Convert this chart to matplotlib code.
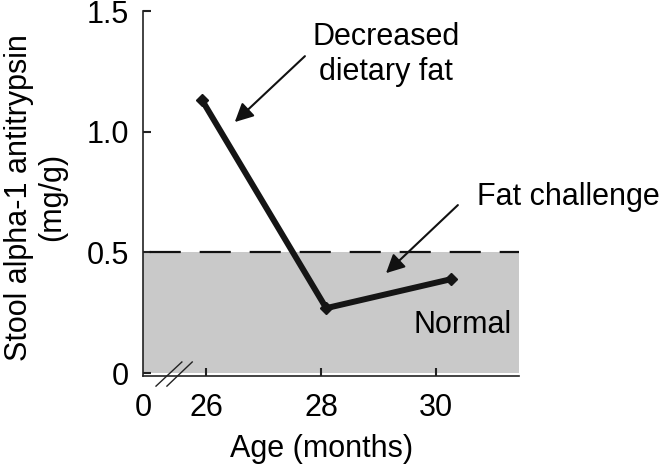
import matplotlib
matplotlib.use("Agg")
import matplotlib.pyplot as plt
from matplotlib.patches import FancyArrowPatch

plt.rcParams["font.family"] = ["Liberation Sans", "DejaVu Sans"]

# Data
age = [25.93, 28.09, 30.26]            # months
a1at = [1.131, 0.269, 0.389]           # stool alpha-1 antitrypsin, mg/g
normal_upper = 0.5
x_ticks = [24.904, 26, 28, 30]
x_ticklabels = ["0", "26", "28", "30"]
y_ticks = [0, 0.5, 1.0, 1.5]
y_ticklabels = ["0", "0.5", "1.0", "1.5"]

FS = 22

fig = plt.figure(figsize=(6.67, 4.67), dpi=100)
ax = fig.add_axes([0.2144, 0.1949, 0.5637, 0.7815])

xmin, xmax = 24.904, 31.443
ax.set_xlim(xmin, xmax)
ax.set_ylim(-0.012, 1.5)

# normal range
ax.fill_between([xmin, xmax], 0, normal_upper, color="#c9c9c9", lw=0, zorder=1)
ax.plot([xmin, xmax], [normal_upper, normal_upper], color="#111111", lw=1.6,
        linestyle=(-3, (14, 8.5)), zorder=2)

# patient curve
ax.plot(age, a1at, color="#151515", lw=4.3, marker="D", markersize=6.5,
        solid_capstyle="butt", zorder=3)

# axes cosmetics
for s in ["top", "right"]:
    ax.spines[s].set_visible(False)
for s in ["left", "bottom"]:
    ax.spines[s].set_linewidth(1.2)
    ax.spines[s].set_color("#222222")
ax.set_xticks(x_ticks)
ax.set_xticklabels(x_ticklabels)
ax.set_yticks(y_ticks)
ax.set_yticklabels(y_ticklabels)
ax.tick_params(direction="in", length=6, width=1.5, labelsize=FS, color="#222222")
ax.tick_params(axis="x", pad=12)
ax.tick_params(axis="y", pad=10)
ax.xaxis.get_major_ticks()[0].tick1line.set_visible(False)

ax.set_xlabel("Age (months)", fontsize=FS)
ax.xaxis.set_label_coords(0.475, -0.158)
ax.xaxis.label.set_va("top")
ax.set_ylabel("Stool alpha-1 antitrypsin\n(mg/g)", fontsize=FS, linespacing=1.1)
ax.yaxis.set_label_coords(-0.203, 0.49)

# axis break marks
for x0, x1 in [(25.13, 25.58), (25.32, 25.76)]:
    ax.plot([x0, x1], [-0.054, 0.046], color="#222222", lw=1.0,
            clip_on=False, zorder=4)

# annotations
ax.text(29.13, 1.32, "Decreased\ndietary fat", fontsize=FS, ha="center",
        va="center", linespacing=1.2)
ax.text(32.31, 0.729, "Fat challenge", fontsize=FS, ha="center", va="center",
        clip_on=False)
ax.text(30.47, 0.199, "Normal", fontsize=FS, ha="center", va="center")

for start, tip in [((27.72, 1.313), (26.50, 1.04)),
                   ((30.38, 0.696), (29.13, 0.414))]:
    arr = FancyArrowPatch(start, tip, arrowstyle="-|>,head_length=0.8,head_width=0.4",
                          mutation_scale=14, lw=1.5, color="#111111",
                          shrinkA=0, shrinkB=0, clip_on=False, zorder=5)
    ax.add_patch(arr)

fig.savefig("out.png", dpi=100, facecolor="white")
